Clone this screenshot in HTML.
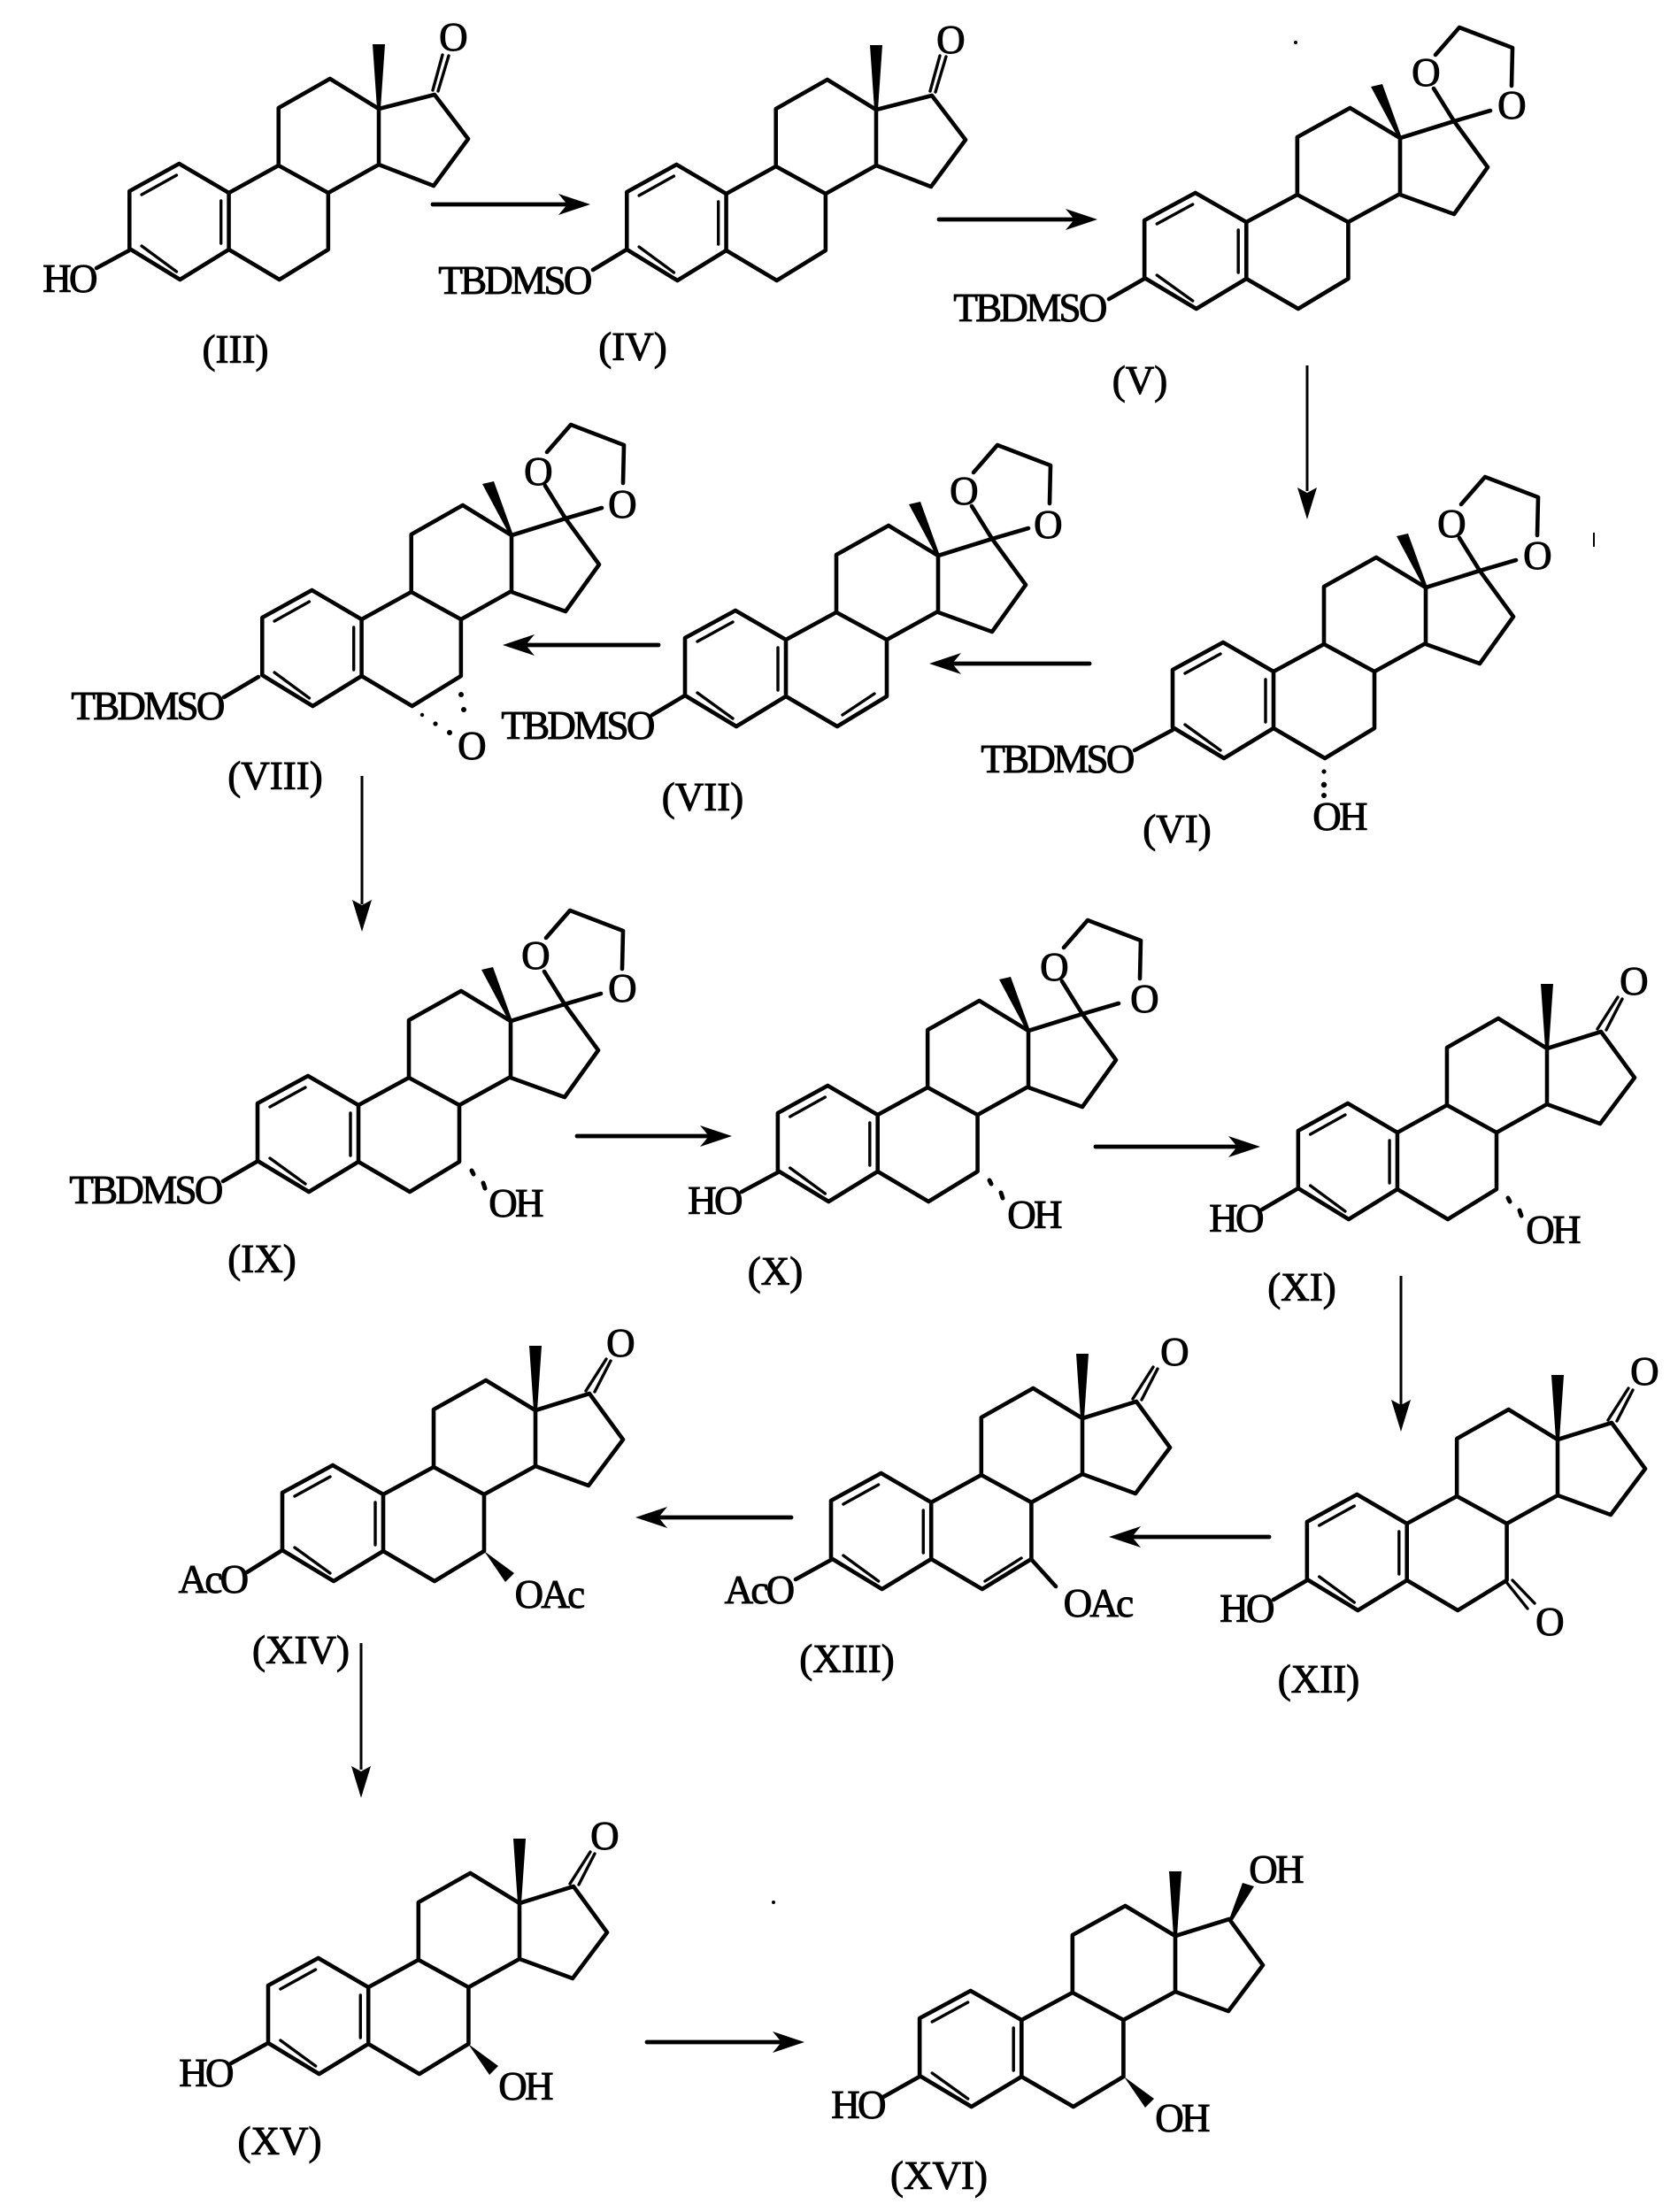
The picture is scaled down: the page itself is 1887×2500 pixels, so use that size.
<!DOCTYPE html>
<html><head><meta charset="utf-8"><style>
html,body{margin:0;padding:0;background:#fff}
svg{display:block}
text{font-family:"Liberation Serif",serif;font-size:45px;fill:#000;stroke:#000;stroke-width:1;text-anchor:middle;letter-spacing:-2.7px}
text.l{letter-spacing:0}
.b{fill:none;stroke:#000;stroke-width:4.6;stroke-linejoin:round;stroke-linecap:round}
.i{fill:none;stroke:#000;stroke-width:3.4;stroke-linecap:round}
.h{fill:none;stroke:#000;stroke-width:5;stroke-linecap:round}
</style></head><body>
<svg xmlns="http://www.w3.org/2000/svg" width="1887" height="2500" viewBox="0 0 1887 2500">
<rect width="1887" height="2500" fill="#fff"/>
<defs>
<g id="core">
<path class="b" d="M-286,158L-286,93L-229,62L-172,95L-172,159L-228,193Z"/>
<path class="b" d="M-172,95L-115,64L-58,95L-58,159L-114,193L-172,159"/>
<path class="b" d="M-115,64L-115,-1L-56,-34L0,0L0,63L-58,95"/>
<path class="i" d="M-272,97L-232,75M-272,155L-232,184M-181,104L-181,152"/>
</g>
<g id="wedge"><polygon points="-7,-73 7,-73 2,0 -2,0"/></g>
<g id="wedge2"><polygon points="-33,-58 -20,-61 2,0 -2,0"/></g>
<g id="d"><path class="b" d="M0,0L61,-19L99,33L60,85L0,63"/></g>
<g id="ketA"><path class="b" d="M0,0L63,-16L101,34L62,87L0,63"/><path class="i" d="M61,-21L72,-61M67,-20L79,-60"/></g>
<g id="ketB"><use href="#d"/><path class="i" d="M57,-22L80,-58M67,-21L85,-56"/></g>
<g id="ac"><path class="b" d="M0,0L61,-19L99,33L61,86L0,64"/><path class="b" d="M38,-56L61,-19M61,-19L102,-31M40,-94L67,-125L127,-102L126,-59"/></g>
<g id="hash"><path class="h" d="M-44,169L-42,173M-31,183L-29,189"/></g>
<g id="wb"><polygon points="-58,159 -24,184 -34,194"/></g>
<g id="ah"><polygon points="0,0 -36,-12 -26,0 -36,12"/></g>
<g id="ahv"><polygon points="0,0 -36,-11 -30,0 -36,11"/></g>
</defs>

<!-- III -->
<g transform="translate(428,123)"><use href="#core" transform="scale(.985,1)"/><use href="#wedge"/><use href="#ketA"/></g>
<text x="511" y="57">O</text>
<path class="b" d="M146,283L109,303"/>
<text x="78" y="330">HO</text>
<text class="l" x="266" y="410">(III)</text>
<!-- IV -->
<g transform="translate(990,124)"><use href="#core" transform="scale(.985,1)"/><use href="#wedge"/><use href="#ketA"/></g>
<text x="1073" y="60">O</text>
<path class="b" d="M708,282L670,305"/>
<text x="581" y="332">TBDMSO</text>
<text class="l" x="715" y="407">(IV)</text>
<!-- V -->
<g transform="translate(1582,156)"><use href="#core" transform="scale(1.01,1)"/><use href="#wedge2"/><use href="#ac"/>
<text x="28" y="-59">O</text><text x="125" y="-22">O</text></g>
<path class="b" d="M1293,315L1253,338"/>
<text x="1163" y="363">TBDMSO</text>
<text class="l" x="1288" y="445">(V)</text>
<circle cx="1464" cy="48" r="2" fill="#000"/>
<!-- VI -->
<g transform="translate(1611,664)"><use href="#core"/><use href="#wedge2"/><use href="#ac"/>
<text x="28" y="-57">O</text><text x="125" y="-21">O</text></g>
<path class="b" d="M1325,825L1282,848"/>
<text x="1194" y="873">TBDMSO</text>
<circle cx="1496" cy="872" r="2.6" fill="#000"/><circle cx="1496" cy="887" r="3.2" fill="#000"/><circle cx="1496" cy="899" r="3" fill="#000"/>
<text x="1513" y="938">OH</text>
<text class="l" x="1330" y="952">(VI)</text>
<path d="M1801,602V618" stroke="#000" stroke-width="2"/>
<!-- VII -->
<g transform="translate(1060,628)"><use href="#core"/><use href="#wedge2"/><use href="#ac"/>
<path class="i" d="M-108,180L-72,156"/>
<text x="28" y="-58">O</text><text x="123" y="-20">O</text></g>
<path class="b" d="M774,786L737,808"/>
<text x="652" y="835">TBDMSO</text>
<text class="l" x="794" y="916">(VII)</text>
<!-- VIII -->
<g transform="translate(578,605)"><use href="#core" transform="scale(.985,1)"/><use href="#wedge2"/><use href="#ac"/>
<text x="29" y="-57">O</text><text x="124" y="-20">O</text></g>
<path class="b" d="M292,765L253,788"/>
<text x="166" y="813">TBDMSO</text>
<text x="532" y="858">O</text>
<circle cx="521" cy="785" r="3" fill="#000"/><circle cx="524" cy="802" r="3" fill="#000"/>
<circle cx="477" cy="808" r="2.2" fill="#000"/><circle cx="492" cy="818" r="2.6" fill="#000"/><circle cx="508" cy="828" r="3" fill="#000"/>
<text class="l" x="311" y="892">(VIII)</text>
<!-- IX -->
<g transform="translate(577,1154)"><use href="#core"/><use href="#wedge2"/><use href="#ac"/><use href="#hash"/>
<text x="27" y="-59">O</text><text x="125" y="-22">O</text></g>
<path class="b" d="M290,1313L252,1335"/>
<text x="164" y="1360">TBDMSO</text>
<text x="582" y="1375">OH</text>
<text class="l" x="296" y="1438">(IX)</text>
<!-- X -->
<g transform="translate(1162,1165)"><use href="#core" transform="scale(.99,1)"/><use href="#wedge2"/><use href="#ac"/><use href="#hash"/>
<text x="28" y="-57">O</text><text x="130" y="-21">O</text></g>
<path class="b" d="M879,1325L838,1347"/>
<text x="807" y="1372">HO</text>
<text x="1168" y="1388">OH</text>
<text class="l" x="876" y="1452">(X)</text>
<!-- XI -->
<g transform="translate(1748,1185)"><use href="#core" transform="scale(.983,1)"/><use href="#wedge"/><use href="#ketB"/><use href="#hash"/>
<text x="97" y="-61">O</text></g>
<path class="b" d="M1467,1343L1426,1367"/>
<text x="1396" y="1392">HO</text>
<text x="1754" y="1405">OH</text>
<text class="l" x="1471" y="1470">(XI)</text>
<!-- XII -->
<g transform="translate(1760,1627)"><use href="#core" transform="scale(.99,1)"/><use href="#wedge"/><use href="#ketB"/>
<path class="i" d="M-58,161L-34,191M-51,159L-26,185"/>
<text x="97" y="-62">O</text><text x="-10" y="221">O</text></g>
<path class="b" d="M1477,1786L1439,1808"/>
<text x="1408" y="1833">HO</text>
<text class="l" x="1490" y="1913">(XII)</text>
<!-- XIII -->
<g transform="translate(1223,1603)"><use href="#core" transform="scale(.993,1)"/><use href="#wedge"/><use href="#ketB"/>
<path class="i" d="M-110,184L-69,158"/><path class="b" d="M-58,159L-30,190"/>
<text x="103" y="-60">O</text></g>
<path class="b" d="M939,1763L899,1785"/>
<text x="857" y="1812">AcO</text>
<text x="1240" y="1827">OAc</text>
<text class="l" x="957" y="1890">(XIII)</text>
<!-- XIV -->
<g transform="translate(605,1594)"><use href="#core"/><use href="#wedge"/><use href="#ketB"/><use href="#wb"/>
<text x="95" y="-61">O</text></g>
<path class="b" d="M319,1752L279,1777"/>
<text x="240" y="1800">AcO</text>
<text x="620" y="1817">OAc</text>
<text class="l" x="340" y="1880">(XIV)</text>
<!-- XV -->
<g transform="translate(587,2151)"><use href="#core" transform="scale(.993,1)"/><use href="#wedge"/><use href="#ketB"/><use href="#wb"/>
<text x="95" y="-61">O</text></g>
<path class="b" d="M303,2309L261,2332"/>
<text x="232" y="2358">HO</text>
<text x="593" y="2373">OH</text>
<text class="l" x="316" y="2435">(XV)</text>
<circle cx="874" cy="2150" r="2" fill="#000"/>
<!-- XVI -->
<g transform="translate(1328,2188)"><use href="#core" transform="scale(1.01,1)"/><use href="#wedge"/><use href="#d"/><use href="#wb"/>
<polygon points="61,-19 65,-18 89,-56 76,-60"/></g>
<path class="b" d="M1039,2347L998,2370"/>
<text x="1441" y="2128">OH</text>
<text x="969" y="2394">HO</text>
<text x="1335" y="2409">OH</text>
<text class="l" x="1061" y="2474">(XVI)</text>

<!-- horizontal arrows -->
<g stroke="#000" stroke-width="4.8" stroke-linecap="round">
<path d="M489,231H640"/><path d="M1061,248H1215"/>
<path d="M1231,750H1075"/><path d="M744,729H593"/>
<path d="M652,1284H800"/><path d="M1238,1296H1398"/>
<path d="M1434,1737H1278"/><path d="M894,1715H742"/>
<path d="M731,2308H884"/>
</g>
<use href="#ah" transform="translate(667,231)"/>
<use href="#ah" transform="translate(1240,248)"/>
<use href="#ah" transform="translate(1050,750) rotate(180)"/>
<use href="#ah" transform="translate(568,729) rotate(180)"/>
<use href="#ah" transform="translate(827,1284)"/>
<use href="#ah" transform="translate(1424,1296)"/>
<use href="#ah" transform="translate(1253,1737) rotate(180)"/>
<use href="#ah" transform="translate(718,1715) rotate(180)"/>
<use href="#ah" transform="translate(909,2308)"/>
<!-- vertical arrows -->
<g stroke="#000" stroke-width="3">
<path d="M1477,413V555"/><path d="M409,877V1022"/><path d="M1583,1442V1590"/><path d="M408,1857V2000"/>
</g>
<use href="#ahv" transform="translate(1477,587) rotate(90)"/>
<use href="#ahv" transform="translate(409,1053) rotate(90)"/>
<use href="#ahv" transform="translate(1583,1618) rotate(90)"/>
<use href="#ahv" transform="translate(408,2032) rotate(90)"/>
</svg>
</body></html>
